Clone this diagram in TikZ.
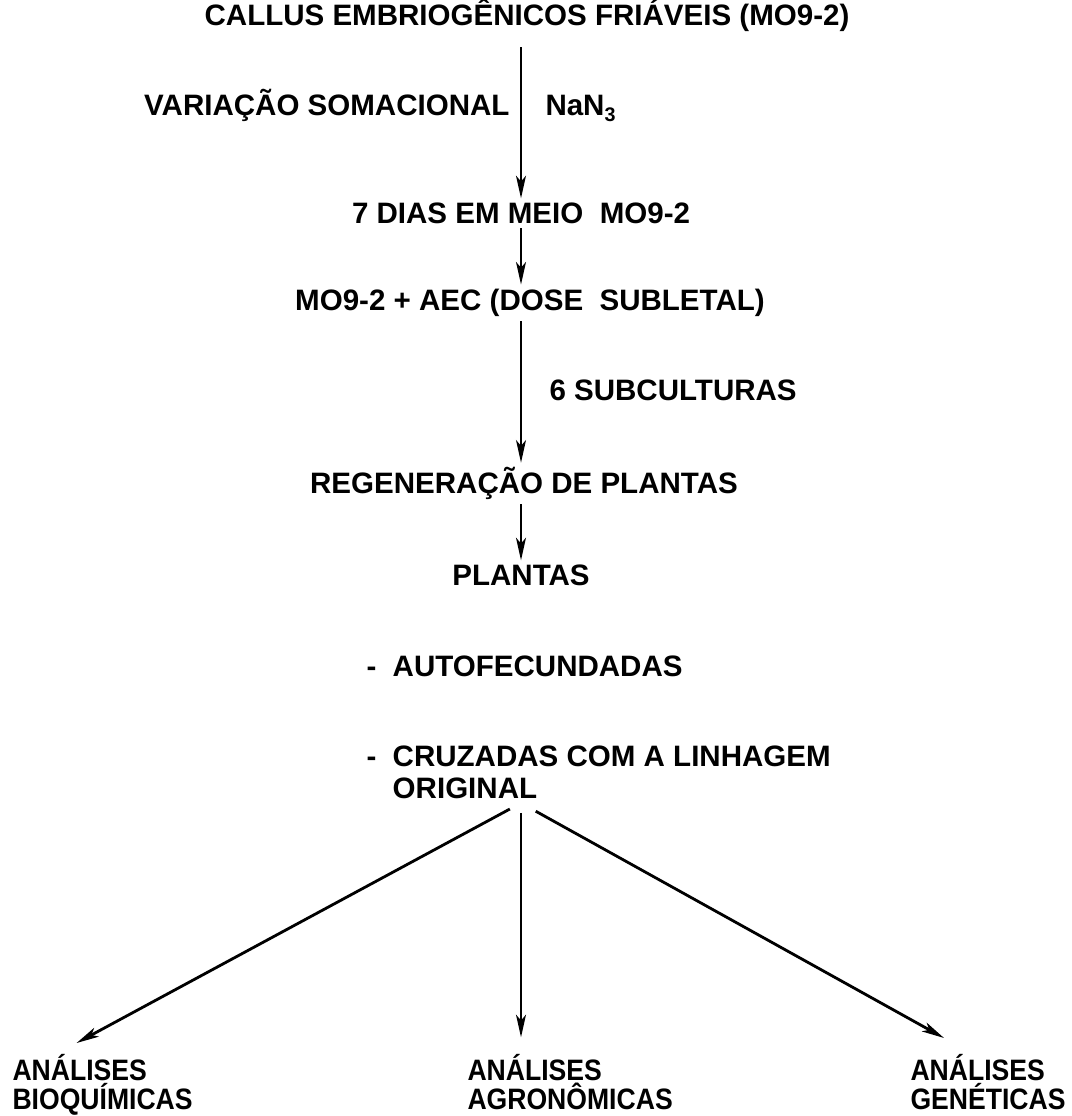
\documentclass[tikz,border=0pt]{standalone}
\usepackage{fontspec}
\setmainfont{Liberation Sans}
\newfontfamily\narrowsans[FakeStretch=0.9]{Liberation Sans}
\usepackage{tikz}
\usetikzlibrary{arrows.meta,positioning}
\tikzstyle{stage} = [font=\fontsize{21}{22.7}\selectfont\bfseries, inner sep=3pt, anchor=base]
\tikzstyle{result} = [stage, align=left, anchor=north west, font=\narrowsans\fontsize{21}{20.5}\selectfont\bfseries]
\tikzstyle{arrow} = [draw, -{Stealth[length=16pt,width=7pt,inset=4pt]}, line width=2pt]

\begin{document}
\begin{tikzpicture}[x=0.025cm, y=-0.025cm]
			\useasboundingbox (0,0) rectangle (1071,1116);
			% Place nodes
			\node [stage] (callus) at (527,25.5) {CALLUS EMBRIOGÊNICOS FRIÁVEIS (MO9-2)};
			\node [stage, anchor=base east] (variacao) at (514,115.5) {VARIAÇÃO SOMACIONAL};
			\node [stage, anchor=base west] (azida) at (541,115.5) {NaN\raisebox{-4pt}{\fontsize{14}{14}\selectfont 3}};
			\node [stage] (dias) at (521,223.5) {7 DIAS EM MEIO\ \ MO9-2};
			\node [stage] (aec) at (530,310.5) {MO9-2 + AEC (DOSE\ \ SUBLETAL)};
			\node [stage, anchor=base west] (subcult) at (545,400) {6 SUBCULTURAS};
			\node [stage] (regen) at (524,493.5) {REGENERAÇÃO DE PLANTAS};
			\node [stage] (plantas) at (521,585.5) {PLANTAS};
			\node [stage, anchor=base west] (auto) at (362,676.5) {-\ \ AUTOFECUNDADAS};
			\node [stage, align=left, anchor=north west] (cruz) at (362,741) {-\ \ CRUZADAS COM A LINHAGEM\\\phantom{-\ \ }ORIGINAL};
			\coordinate (fork) at (521,803);
			\node [result] (bioq) at (8,1050) {ANÁLISES\\BIOQUÍMICAS};
			\node [result] (agro) at (463,1050) {ANÁLISES\\AGRONÔMICAS};
			\node [result] (gene) at (906,1050) {ANÁLISES\\GENÉTICAS};
			% Connectors
			\path [arrow, shorten <=8pt] (callus.south -| dias.north) -- (dias.north);
			\path [arrow] (dias.south) -- (dias.north |- aec.north);
			\path [arrow] (aec.south -| dias.north) -- (dias.north |- regen.north);
			\path [arrow] (regen.south -| dias.north) -- (dias.north |- plantas.north);
			\path [arrow, shorten <=9pt] (fork) -- ([shift={(-26,-7)}]bioq.north);
			\path [arrow, shorten <=7pt, shorten >=9pt] (fork) -- (fork |- agro.north);
			\path [arrow, shorten <=12pt] (fork) -- ([shift={(-44,-12)}]gene.north);
	\end{tikzpicture}
\end{document}
